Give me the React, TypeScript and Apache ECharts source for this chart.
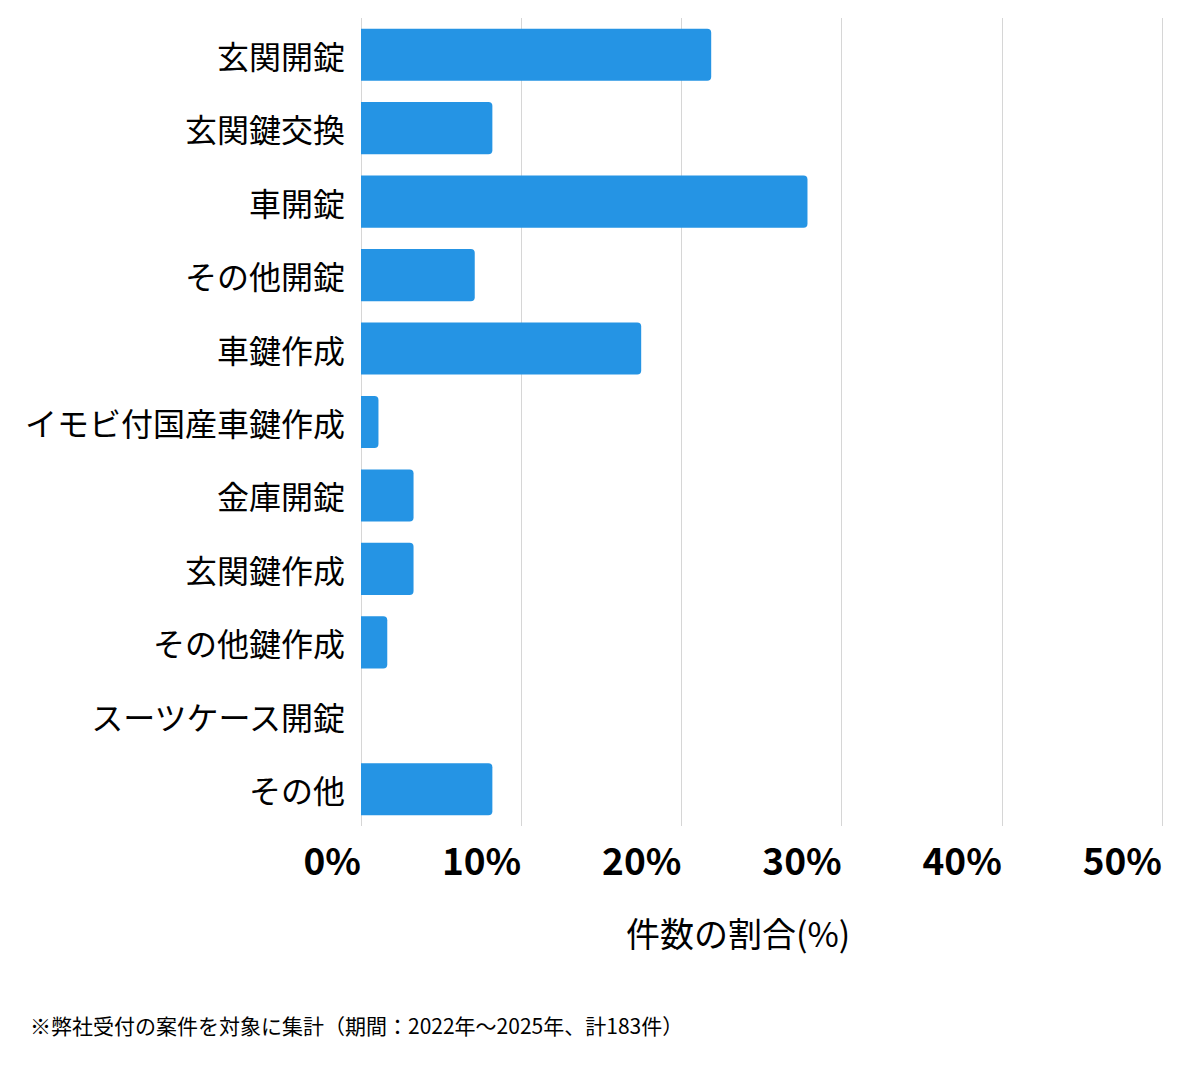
import * as echarts from 'echarts';
import { useEffect, useRef } from 'react';

const categories = [
  '玄関開錠',
  '玄関鍵交換',
  '車開錠',
  'その他開錠',
  '車鍵作成',
  'イモビ付国産車鍵作成',
  '金庫開錠',
  '玄関鍵作成',
  'その他鍵作成',
  'スーツケース開錠',
  'その他',
];

// 件数の割合(%)
const shares = [21.86, 8.2, 27.87, 7.1, 17.49, 1.09, 3.28, 3.28, 1.64, 0, 8.2];

const xTicks = [0, 10, 20, 30, 40, 50];

const axisName = '件数の割合(%)';
const footnote = '※弊社受付の案件を対象に集計（期間：2022年〜2025年、計183件）';

const FONT = '"Noto Sans CJK JP", "Noto Sans", sans-serif';

function App() {
  const chartRef = useRef(null);

  useEffect(() => {
    const myChart = echarts.init(chartRef.current, null, { renderer: 'svg' });

    const option = {
      animation: false,
      textStyle: { fontFamily: FONT },
      grid: {
        left: 361,
        right: 38,
        top: 18,
        bottom: 243,
        containLabel: false,
      },
      xAxis: {
        type: 'value',
        min: xTicks[0],
        max: xTicks[xTicks.length - 1],
        interval: 10,
        axisLine: { show: false },
        axisTick: { show: false },
        splitLine: { lineStyle: { color: '#d6d6d6', width: 1 } },
        axisLabel: {
          formatter: '{value}%',
          align: 'right',
          margin: 14,
          fontSize: 37,
          fontWeight: 'bold',
          color: '#000',
          fontFamily: FONT,
        },
      },
      yAxis: {
        type: 'category',
        data: categories,
        inverse: true,
        axisLine: { show: false },
        axisTick: { show: false },
        splitLine: { show: false },
        axisLabel: {
          margin: 16,
          fontSize: 32,
          color: '#000',
          fontFamily: FONT,
        },
      },
      series: [
        {
          type: 'bar',
          data: shares,
          barCategoryGap: '29%',
          itemStyle: {
            color: '#2594e4',
            borderRadius: [0, 4, 4, 0],
          },
        },
      ],
      graphic: [
        {
          type: 'text',
          left: 626,
          top: 915,
          style: {
            text: axisName,
            fontSize: 34,
            fill: '#000',
            fontFamily: FONT,
          },
        },
        {
          type: 'text',
          left: 30,
          top: 1014,
          style: {
            text: footnote,
            fontSize: 21,
            fill: '#000',
            fontFamily: FONT,
          },
        },
      ],
    };

    myChart.setOption(option);

    return () => {
      myChart.dispose();
    };
  }, []);

  return (
    <div
      ref={chartRef}
      style={{ position: 'fixed', left: 0, top: 0, width: '1200px', height: '1069px', background: '#fff' }}
    ></div>
  );
}

export default App;
